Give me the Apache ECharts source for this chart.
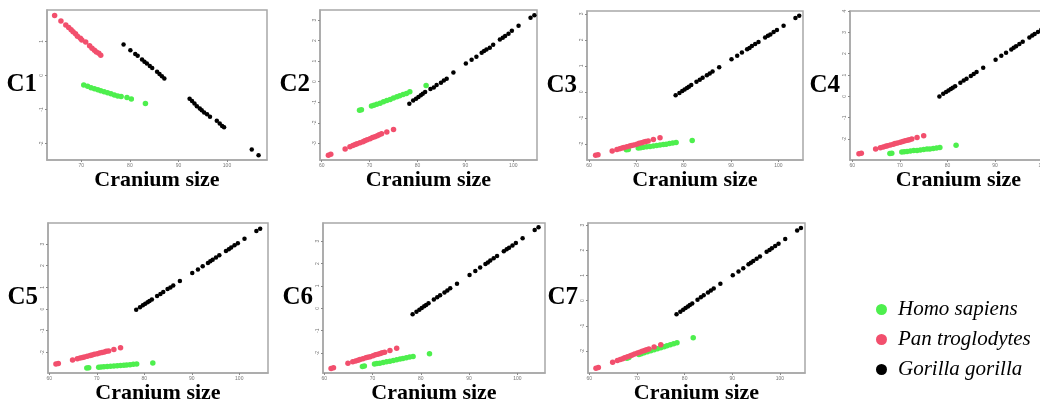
<!DOCTYPE html>
<html>
<head>
<meta charset="utf-8">
<script src="https://cdn.jsdelivr.net/npm/echarts@6/dist/echarts.min.js"></script>
<style>
html, body { margin: 0; padding: 0; background: #fff; }
#container { width: 1040px; height: 405px; }
</style>
</head>
<body>
<div id="container"></div>
<script>
// species shown in the legend
var species = ["Homo sapiens", "Pan troglodytes", "Gorilla gorilla"];
var colors = ["#4def4d", "#f24f6d", "#000000"];

// C1 has its own cranium sizes
var c1HomoX = [70.5, 71.3, 72.0, 72.7, 73.4, 74.0, 74.7, 75.4, 76.1, 76.8, 77.5, 78.2, 79.4, 80.3, 83.2];
var c1HomoY = [-0.28, -0.32, -0.36, -0.39, -0.42, -0.45, -0.48, -0.51, -0.54, -0.57, -0.60, -0.62, -0.65, -0.69, -0.82];
var c1PanX = [64.5, 65.8, 66.8, 67.4, 67.9, 68.3, 68.8, 69.2, 69.8, 70.1, 70.9, 71.7, 72.2, 72.7, 73.1, 73.6, 74.0];
var c1PanY = [1.76, 1.60, 1.48, 1.41, 1.34, 1.28, 1.22, 1.15, 1.09, 1.04, 0.98, 0.87, 0.80, 0.74, 0.69, 0.65, 0.59];
var c1GorX = [78.7, 80.1, 81.1, 81.6, 82.5, 83.0, 83.5, 84.1, 84.6, 85.6, 86.1, 86.6, 87.1,
    92.3, 92.8, 93.3, 93.8, 94.4, 94.8, 95.3, 95.9, 96.5, 97.9, 98.5, 99.0, 99.4, 105.1, 106.5];
var c1GorY = [0.91, 0.74, 0.63, 0.58, 0.47, 0.40, 0.35, 0.28, 0.22, 0.11, 0.04, -0.02, -0.09,
    -0.68, -0.75, -0.82, -0.90, -0.97, -1.02, -1.09, -1.14, -1.21, -1.33, -1.41, -1.48, -1.52, -2.17, -2.34];

// cranium sizes used by C2 - C7
var homoX = [67.9, 68.3, 70.4, 70.9, 71.5, 72.2, 72.9, 73.6, 74.3, 75.0, 75.7, 76.3, 77.0, 77.7, 78.4, 81.8];
var panX = [61.4, 61.9, 64.9, 65.9, 66.5, 67.0, 67.4, 68.0, 68.6, 69.0, 69.5, 70.1, 70.6, 71.1, 71.6, 72.0, 72.5, 73.6, 75.0];
var gorX = [78.3, 79.1, 79.7, 80.2, 80.7, 81.1, 81.6, 82.7, 83.4, 84.0, 84.9, 85.5, 86.1, 87.5, 90.1,
    91.3, 92.3, 93.4, 93.9, 94.4, 95.1, 95.8, 97.2, 97.8, 98.3, 99.0, 99.7, 101.1, 103.6, 104.4];

var c2HomoY = [-1.39, -1.36, -1.18, -1.15, -1.10, -1.05, -0.97, -0.92, -0.86, -0.79, -0.73, -0.68, -0.62, -0.57, -0.49, -0.19];
var c2PanY = [-3.58, -3.53, -3.28, -3.16, -3.11, -3.06, -3.02, -2.97, -2.92, -2.87, -2.82, -2.77, -2.72, -2.68, -2.63, -2.58, -2.53, -2.45, -2.32];
var c2GorY = [-1.07, -0.91, -0.83, -0.75, -0.66, -0.58, -0.50, -0.36, -0.28, -0.16, -0.05, 0.06, 0.15, 0.45, 0.89,
    1.07, 1.22, 1.41, 1.49, 1.57, 1.65, 1.80, 2.06, 2.14, 2.22, 2.34, 2.48, 2.72, 3.11, 3.23];

var c3HomoY = [-2.23, -2.22, -2.16, -2.15, -2.13, -2.11, -2.10, -2.08, -2.06, -2.04, -2.02, -2.01, -1.99, -1.97, -1.95, -1.87];
var c3PanY = [-2.44, -2.42, -2.27, -2.22, -2.19, -2.16, -2.14, -2.11, -2.08, -2.06, -2.04, -2.01, -1.98, -1.96, -1.93, -1.91, -1.89, -1.83, -1.76];
var c3GorY = [-0.13, -0.04, 0.03, 0.09, 0.15, 0.20, 0.26, 0.39, 0.47, 0.54, 0.64, 0.71, 0.78, 0.95, 1.25,
    1.39, 1.51, 1.64, 1.69, 1.76, 1.84, 1.92, 2.09, 2.16, 2.21, 2.30, 2.38, 2.54, 2.84, 2.93];

var c4HomoY = [-2.67, -2.66, -2.61, -2.59, -2.58, -2.56, -2.54, -2.53, -2.51, -2.49, -2.47, -2.46, -2.44, -2.42, -2.40, -2.29];
var c4PanY = [-2.69, -2.66, -2.47, -2.41, -2.37, -2.34, -2.31, -2.28, -2.24, -2.21, -2.18, -2.15, -2.11, -2.08, -2.05, -2.03, -2.00, -1.93, -1.84];
var c4GorY = [0.00, 0.12, 0.20, 0.28, 0.35, 0.41, 0.48, 0.64, 0.74, 0.83, 0.96, 1.05, 1.14, 1.34, 1.72,
    1.90, 2.04, 2.20, 2.28, 2.35, 2.45, 2.56, 2.76, 2.85, 2.92, 3.02, 3.12, 3.33, 3.69, 3.81];

var c5HomoY = [-2.72, -2.71, -2.68, -2.67, -2.66, -2.65, -2.64, -2.63, -2.61, -2.60, -2.59, -2.58, -2.57, -2.55, -2.54, -2.49];
var c5PanY = [-2.54, -2.51, -2.35, -2.29, -2.26, -2.23, -2.21, -2.18, -2.14, -2.12, -2.09, -2.06, -2.03, -2.00, -1.98, -1.95, -1.93, -1.87, -1.79];
var c5GorY = [-0.03, 0.08, 0.17, 0.24, 0.31, 0.37, 0.44, 0.60, 0.70, 0.79, 0.92, 1.00, 1.09, 1.29, 1.66,
    1.83, 1.98, 2.13, 2.21, 2.28, 2.38, 2.48, 2.68, 2.76, 2.84, 2.94, 3.04, 3.24, 3.60, 3.71];

var c6HomoY = [-2.60, -2.58, -2.49, -2.47, -2.45, -2.42, -2.39, -2.36, -2.33, -2.30, -2.27, -2.24, -2.21, -2.18, -2.15, -2.03];
var c6PanY = [-2.69, -2.66, -2.46, -2.39, -2.35, -2.32, -2.29, -2.25, -2.21, -2.19, -2.16, -2.12, -2.08, -2.05, -2.02, -1.99, -1.96, -1.88, -1.79];
var c6GorY = [-0.27, -0.15, -0.06, 0.01, 0.09, 0.15, 0.22, 0.39, 0.49, 0.58, 0.71, 0.80, 0.89, 1.10, 1.49,
    1.67, 1.82, 1.98, 2.05, 2.13, 2.23, 2.34, 2.55, 2.64, 2.71, 2.81, 2.92, 3.13, 3.50, 3.62];

var c7HomoY = [-2.28, -2.26, -2.14, -2.11, -2.07, -2.03, -1.99, -1.95, -1.91, -1.87, -1.83, -1.79, -1.75, -1.71, -1.67, -1.47];
var c7PanY = [-2.68, -2.65, -2.44, -2.37, -2.33, -2.30, -2.27, -2.23, -2.19, -2.16, -2.12, -2.08, -2.05, -2.01, -1.98, -1.95, -1.92, -1.84, -1.75];
var c7GorY = [-0.54, -0.44, -0.36, -0.29, -0.23, -0.17, -0.11, 0.04, 0.13, 0.21, 0.32, 0.40, 0.48, 0.67, 1.01,
    1.16, 1.29, 1.44, 1.50, 1.57, 1.66, 1.75, 1.94, 2.01, 2.08, 2.17, 2.26, 2.45, 2.78, 2.88];

// tick labels
var xTicksC1 = [70, 80, 90, 100];
var xTicks = [60, 70, 80, 90, 100];

// panel layout and axis ranges
var panels = [
    { label: "C1", left: 47, top: 10, width: 220, height: 150, xMin: 62.93, xMax: 108.24, yMin: -2.48, yMax: 1.92,
      xt: xTicksC1, yt: [-2, -1, 0, 1], gap: 5,
      data: [[c1HomoX, c1HomoY], [c1PanX, c1PanY], [c1GorX, c1GorY]] },
    { label: "C2", left: 320, top: 10, width: 217, height: 150, xMin: 59.65, xMax: 104.95, yMin: -3.81, yMax: 3.49,
      xt: xTicks, yt: [-3, -2, -1, 0, 1, 2, 3], gap: 5,
      data: [[homoX, c2HomoY], [panX, c2PanY], [gorX, c2GorY]] },
    { label: "C3", left: 587, top: 11, width: 216, height: 149, xMin: 59.58, xMax: 105.2, yMin: -2.62, yMax: 3.11,
      xt: xTicks, yt: [-2, -1, 0, 1, 2, 3], gap: 5,
      data: [[homoX, c3HomoY], [panX, c3PanY], [gorX, c3GorY]] },
    { label: "C4", left: 850, top: 11, width: 217, height: 149, xMin: 59.52, xMax: 105.1, yMin: -2.98, yMax: 4.0,
      xt: xTicks, yt: [-2, -1, 0, 1, 2, 3, 4], gap: 5,
      data: [[homoX, c4HomoY], [panX, c4PanY], [gorX, c4GorY]] },
    { label: "C5", left: 48, top: 223, width: 220, height: 150, xMin: 59.73, xMax: 106.05, yMin: -2.95, yMax: 3.97,
      xt: xTicks, yt: [-2, -1, 0, 1, 2, 3], gap: 7,
      data: [[homoX, c5HomoY], [panX, c5PanY], [gorX, c5GorY]] },
    { label: "C6", left: 323, top: 223, width: 222, height: 150, xMin: 59.73, xMax: 105.74, yMin: -2.89, yMax: 3.81,
      xt: xTicks, yt: [-2, -1, 0, 1, 2, 3], gap: 7,
      data: [[homoX, c6HomoY], [panX, c6PanY], [gorX, c6GorY]] },
    { label: "C7", left: 588, top: 223, width: 217, height: 150, xMin: 59.73, xMax: 105.25, yMin: -2.87, yMax: 3.08,
      xt: xTicks, yt: [-2, -1, 0, 1, 2, 3], gap: 7,
      data: [[homoX, c7HomoY], [panX, c7PanY], [gorX, c7GorY]] }
];

function pairs(xs, ys) {
    var out = [];
    for (var i = 0; i < xs.length; i++) {
        out.push([xs[i], ys[i]]);
    }
    return out;
}

var grids = [], xAxes = [], yAxes = [], series = [];
var tickLabel = { fontSize: 5, color: "#777", fontFamily: "Liberation Sans" };

for (var p = 0; p < panels.length; p++) {
    var c = panels[p];
    grids.push({
        left: c.left, top: c.top, width: c.width, height: c.height,
        outerBoundsMode: "none", containLabel: false,
        show: true, borderColor: "#a8a8a8", borderWidth: 1.5, backgroundColor: "#fff"
    });
    xAxes.push({
        type: "value", gridIndex: p, min: c.xMin, max: c.xMax,
        name: "Cranium size", nameLocation: "middle", nameGap: c.gap,
        nameTextStyle: { fontFamily: "Liberation Serif", fontWeight: "bold", fontSize: 22, color: "#000", verticalAlign: "top" },
        axisLine: { show: true, onZero: false, lineStyle: { color: "#a8a8a8", width: 1.5 } },
        axisTick: { show: true, length: 2, customValues: c.xt, lineStyle: { color: "#888" } },
        axisLabel: Object.assign({ margin: 3, customValues: c.xt }, tickLabel),
        splitLine: { show: false }
    });
    yAxes.push({
        type: "value", gridIndex: p, min: c.yMin, max: c.yMax,
        name: c.label, nameLocation: "middle", nameRotate: 0, nameGap: 10,
        nameTextStyle: { fontFamily: "Liberation Serif", fontWeight: "bold", fontSize: 25, color: "#000", align: "right", verticalAlign: "middle" },
        axisLine: { show: true, onZero: false, lineStyle: { color: "#a8a8a8", width: 1.5 } },
        axisTick: { show: true, length: 2, customValues: c.yt, lineStyle: { color: "#888" } },
        axisLabel: Object.assign({ margin: 3, rotate: 90, customValues: c.yt }, tickLabel),
        splitLine: { show: false }
    });
    for (var s = 0; s < species.length; s++) {
        series.push({
            type: "scatter", name: species[s], xAxisIndex: p, yAxisIndex: p,
            symbol: "circle", symbolSize: s == 2 ? 4.5 : 5.5,
            itemStyle: { color: colors[s], opacity: 1 },
            data: pairs(c.data[s][0], c.data[s][1])
        });
    }
}

var dom = document.getElementById("container");
var myChart = echarts.init(dom, null, { renderer: "canvas" });
var option = {
    animation: false,
    backgroundColor: "#fff",
    color: colors,
    legend: {
        data: species,
        orient: "vertical",
        left: 871, top: 294,
        icon: "circle", itemWidth: 11, itemHeight: 11, itemGap: 9,
        textStyle: { fontFamily: "Liberation Serif", fontStyle: "italic", fontSize: 21, color: "#000", padding: [0, 0, 0, 6] }
    },
    grid: grids,
    xAxis: xAxes,
    yAxis: yAxes,
    series: series
};
myChart.setOption(option);
</script>
</body>
</html>
